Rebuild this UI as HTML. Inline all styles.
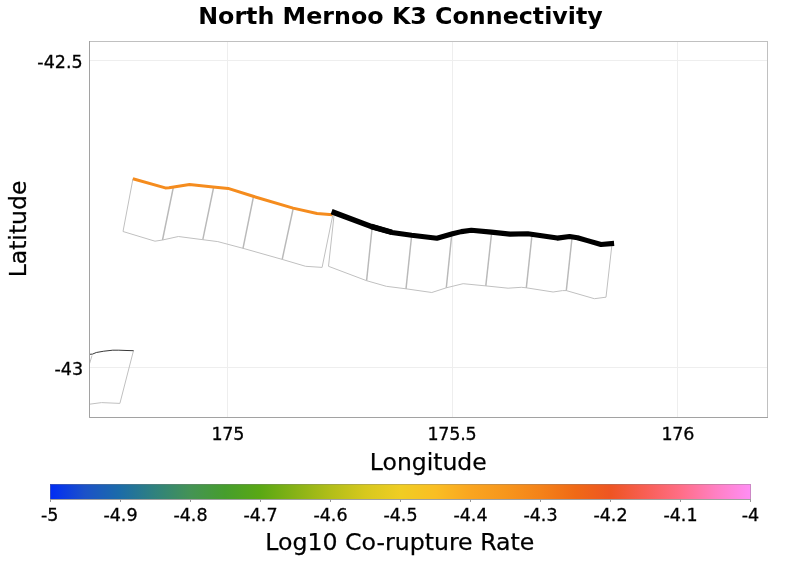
<!DOCTYPE html>
<html><head><meta charset="utf-8"><title>North Mernoo K3 Connectivity</title>
<style>
html,body{margin:0;padding:0;background:#fff;}
body{width:800px;height:564px;overflow:hidden;}
svg{display:block;}
text{font-family:"DejaVu Sans","Liberation Sans",sans-serif;fill:#000;}
.tick{font-size:17.5px;stroke:#000;stroke-width:0.3px;}
.axl{font-size:23.5px;stroke:#000;stroke-width:0.25px;}
.g{fill:none;stroke:#c0c0c0;stroke-width:1;stroke-linejoin:round;}
</style></head><body>
<svg width="800" height="564" viewBox="0 0 800 564">
<defs>
<linearGradient id="cpt" x1="0" x2="1" y1="0" y2="0">
<stop offset="0" stop-color="#002cf5"/>
<stop offset="0.05" stop-color="#1c52c8"/>
<stop offset="0.1" stop-color="#1c6ca8"/>
<stop offset="0.15" stop-color="#30827d"/>
<stop offset="0.2" stop-color="#449355"/>
<stop offset="0.25" stop-color="#469e2d"/>
<stop offset="0.3" stop-color="#5aa814"/>
<stop offset="0.35" stop-color="#87b216"/>
<stop offset="0.4" stop-color="#b2be19"/>
<stop offset="0.45" stop-color="#d7c81e"/>
<stop offset="0.5" stop-color="#f0cd23"/>
<stop offset="0.55" stop-color="#fabe23"/>
<stop offset="0.6" stop-color="#faa520"/>
<stop offset="0.65" stop-color="#f7961c"/>
<stop offset="0.7" stop-color="#f48219"/>
<stop offset="0.75" stop-color="#f06916"/>
<stop offset="0.8" stop-color="#ee5523"/>
<stop offset="0.85" stop-color="#f85f55"/>
<stop offset="0.9" stop-color="#ff6e87"/>
<stop offset="0.95" stop-color="#ff80c3"/>
<stop offset="1" stop-color="#ff8ef5"/>
</linearGradient>
<clipPath id="pc"><rect x="89.5" y="41.5" width="678" height="376"/></clipPath>
</defs>
<rect width="800" height="564" fill="#fff"/>
<text x="400.5" y="23.5" text-anchor="middle" font-size="23.75" font-weight="bold">North Mernoo K3 Connectivity</text>
<!-- grid -->
<g stroke="#eeeeee" stroke-width="1" fill="none">
<line x1="227.5" y1="41.5" x2="227.5" y2="417.5"/>
<line x1="452.5" y1="41.5" x2="452.5" y2="417.5"/>
<line x1="677.5" y1="41.5" x2="677.5" y2="417.5"/>
<line x1="89.5" y1="60.5" x2="767.5" y2="60.5"/>
<line x1="89.5" y1="367.5" x2="767.5" y2="367.5"/>
</g>
<g clip-path="url(#pc)">
<!-- gray section outlines -->
<g class="g">
<polyline points="133,178.5 123,231.5 155,241.2 162.5,240 178.4,236.5 202.8,239.7 217.8,241.6 243,248.3 282.2,259.4 305.6,266.3 322.1,267.4 332.8,215"/>
<line x1="173.4" y1="187" x2="162.5" y2="240" style="stroke:#b9b9b9;stroke-width:1.45"/>
<line x1="213.7" y1="187" x2="202.8" y2="239.7" style="stroke:#b9b9b9;stroke-width:1.45"/>
<line x1="253.6" y1="196" x2="243" y2="248.3" style="stroke:#b9b9b9;stroke-width:1.45"/>
<line x1="293.3" y1="208" x2="282.2" y2="259.4" style="stroke:#b9b9b9;stroke-width:1.45"/>
<polyline points="334.2,214 328.5,266.3 366.6,280.7 386.3,286.3 406,288.8 431.8,292.5 446.3,287.8 463.1,283.7 485.8,285.9 508.1,288.2 521.3,287.3 526.3,287.8 553.1,292 562.5,290.6 566.3,290.6 594.4,298.7 606,297.2 612,244"/>
<line x1="372.2" y1="227" x2="366.6" y2="280.7" style="stroke:#b9b9b9;stroke-width:1.45"/>
<line x1="411.6" y1="236" x2="406" y2="288.8" style="stroke:#b9b9b9;stroke-width:1.45"/>
<line x1="451.7" y1="235" x2="446.3" y2="287.8" style="stroke:#b9b9b9;stroke-width:1.45"/>
<line x1="491.6" y1="233" x2="485.8" y2="285.9" style="stroke:#b9b9b9;stroke-width:1.45"/>
<line x1="532" y1="235" x2="526.3" y2="287.8" style="stroke:#b9b9b9;stroke-width:1.45"/>
<line x1="572" y1="238" x2="566.3" y2="290.6" style="stroke:#b9b9b9;stroke-width:1.45"/>
<polyline points="92,355.5 89.6,363.5"/>
<polyline points="133.4,351 119.9,403.4 101.5,402.6 89.6,404.2"/>
</g>
<polyline points="89.5,354.3 92.5,354.1 96.3,352.5 103.8,351.2 112.8,350.2 118.8,350.2 127,350.5 133.7,350.7" fill="none" stroke="#383838" stroke-width="1" stroke-linejoin="round"/>
<!-- orange -->
<polyline points="132.9,178.4 165.3,187.6 169,187.5 189.5,184.3 213.1,186.6 228.1,188.1 253.1,196 293.1,207.8 317,213.2 332.5,214.5" fill="none" stroke="#f58c1e" stroke-width="3" stroke-linejoin="round" transform="translate(0,0.3)"/>
<!-- black -->
<polyline points="331.6,211.7 371.3,226.5 391.9,232.4" fill="none" stroke="#000" stroke-width="5.6" stroke-linejoin="round"/>
<polyline points="371.3,226.5 391.9,232.4 411.6,235.3 436.9,238.2 452.5,233.8 461.3,231.6 471.3,230.3 491.3,232.1 510,234.1 527.8,233.8 557.3,238.1 569.6,236.5 577.5,237.7 587.5,240.6 601,244.5 614.1,243.4" fill="none" stroke="#000" stroke-width="5.1" stroke-linejoin="round"/>
</g>
<!-- frame -->
<rect x="89.5" y="41.5" width="678" height="376" fill="none" stroke="#c0c0c0" stroke-width="1"/>
<polyline points="89.5,41 89.5,417.5 768,417.5" fill="none" stroke="#a2a2a2" stroke-width="1"/>
<!-- tick labels -->
<text class="tick" x="82.6" y="67.5" text-anchor="end">-42.5</text>
<text class="tick" x="83.1" y="374.9" text-anchor="end">-43</text>
<text class="tick" x="227.8" y="440.3" text-anchor="middle" style="letter-spacing:-0.25px">175</text>
<text class="tick" x="452" y="440.3" text-anchor="middle" style="letter-spacing:-0.2px">175.5</text>
<text class="tick" x="677.8" y="440.3" text-anchor="middle" style="letter-spacing:-0.25px">176</text>
<text class="axl" x="428.3" y="470" text-anchor="middle">Longitude</text>
<text class="axl" transform="translate(26.4,229) rotate(-90)" text-anchor="middle">Latitude</text>
<!-- colorbar -->
<rect x="50" y="484" width="701" height="16" fill="url(#cpt)"/>
<rect x="50.5" y="484.5" width="700" height="15" fill="none" stroke="#808080" stroke-width="1" opacity="0.4"/>
<line x1="50" y1="499.5" x2="751" y2="499.5" stroke="#a0a0a0" stroke-width="1"/>
<g stroke="#999" stroke-width="1">
<line x1="50.5" y1="499.5" x2="50.5" y2="502"/>
<line x1="120.5" y1="499.5" x2="120.5" y2="502"/>
<line x1="190.5" y1="499.5" x2="190.5" y2="502"/>
<line x1="260.5" y1="499.5" x2="260.5" y2="502"/>
<line x1="330.5" y1="499.5" x2="330.5" y2="502"/>
<line x1="400.5" y1="499.5" x2="400.5" y2="502"/>
<line x1="470.5" y1="499.5" x2="470.5" y2="502"/>
<line x1="540.5" y1="499.5" x2="540.5" y2="502"/>
<line x1="610.5" y1="499.5" x2="610.5" y2="502"/>
<line x1="680.5" y1="499.5" x2="680.5" y2="502"/>
<line x1="750.5" y1="499.5" x2="750.5" y2="502"/>
</g>
<g class="tick" text-anchor="middle">
<text x="49.7" y="521">-5</text>
<text x="120.5" y="521">-4.9</text>
<text x="190.5" y="521">-4.8</text>
<text x="260.5" y="521">-4.7</text>
<text x="330.5" y="521">-4.6</text>
<text x="400.5" y="521">-4.5</text>
<text x="470.5" y="521">-4.4</text>
<text x="540.5" y="521">-4.3</text>
<text x="610.5" y="521">-4.2</text>
<text x="680.5" y="521">-4.1</text>
<text x="750.5" y="521">-4</text>
</g>
<text class="axl" x="399.8" y="550.3" style="font-size:23.65px" text-anchor="middle">Log10 Co-rupture Rate</text>
</svg>
</body></html>
